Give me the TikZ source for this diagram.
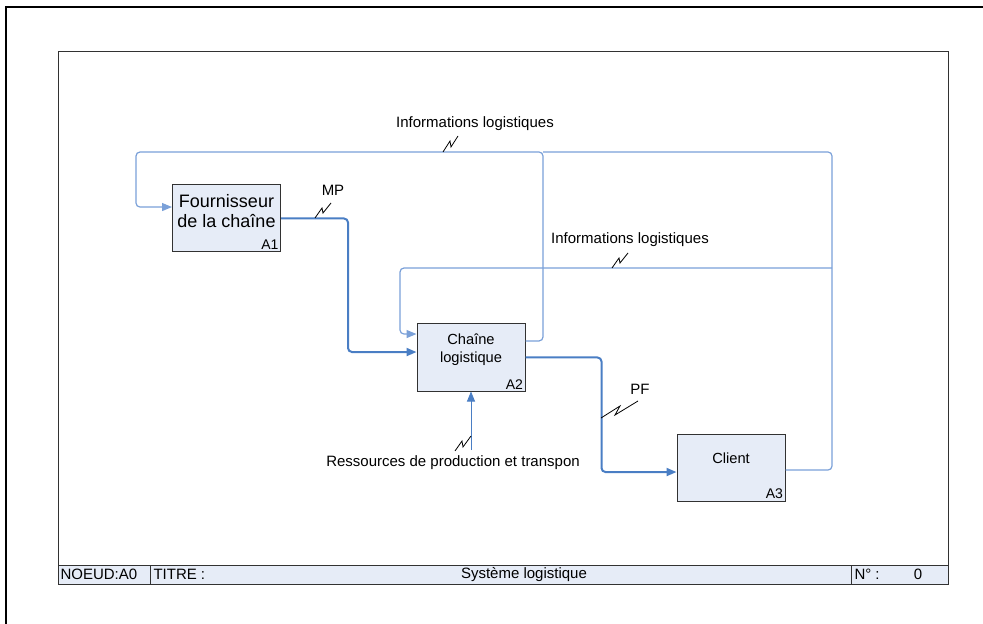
\documentclass[tikz,border=0pt]{standalone}
\usepackage{fontspec}
\setmainfont{Liberation Sans}
\usetikzlibrary{arrows.meta}

\definecolor{boxfill}{RGB}{230,236,247}
\definecolor{boxline}{RGB}{50,50,50}
\definecolor{flowblue}{RGB}{74,126,196}
\definecolor{infoblue}{RGB}{122,160,216}

\tikzset{every picture/.style={line width=0.75pt}}
\tikzset{
  actbox/.style={draw=boxline, fill=boxfill, minimum width=81pt, minimum height=50.25pt, inner sep=0pt, align=center},
  actnum/.style={anchor=south east, inner sep=1.5pt, font=\fontsize{10.5}{12}\selectfont},
  flowline/.style={draw=flowblue, line width=1.5pt, rounded corners=3pt, -{Triangle[length=7.5pt,width=6pt]}},
  infoline/.style={draw=infoblue, line width=0.9pt, rounded corners=3pt},
  infoarrow/.style={infoline, -{Triangle[length=7.5pt,width=6pt]}},
  resline/.style={draw=flowblue, line width=0.6pt, -{Triangle[length=7.5pt,width=6pt]}},
  squig/.style={line width=0.6pt},
  lbl/.style={inner sep=0pt, font=\fontsize{11.25}{13}\selectfont},
  foot/.style={inner sep=0pt, font=\fontsize{11.25}{13}\selectfont}
}

\begin{document}
\begin{tikzpicture}[x=0.75pt,y=0.75pt,yscale=-1,xscale=1]
\useasboundingbox (0,0) rectangle (983,624);

% outer frame
\draw [line width=1.5pt] (6,624) -- (6,7) -- (983,7) ;
% inner frame
\draw [draw=boxline] (58,52) rectangle (948,584) ;
% footer
\draw [draw=boxline, fill=boxfill] (58,565) rectangle (948,584) ;
\draw [draw=boxline] (150,565) -- (150,584) ;
\draw [draw=boxline] (851,565) -- (851,584) ;
\node [foot, anchor=west] (noeud) at (60,574.5) {NOEUD:A0};
\node [foot, anchor=west] (titre) at (153,574.5) {TITRE :};
\node [foot] (titretxt) at (524,574.5) {Système logistique};
\node [foot, anchor=west] (numero) at (854,574.5) {N° :};
\node [foot] (numval) at (918,574.5) {0};

% activities
\node [actbox, font=\fontsize{13.5}{15}\selectfont] (A1) at (226.5,218.5) {Fournisseur\\de la chaîne\\[-4pt]};
\node [actnum] (A1n) at (A1.south east) {A1};
\node [actbox, font=\fontsize{11}{13.5}\selectfont] (A2) at (471,357.5) {Chaîne\\logistique\\[0pt]};
\node [actnum] (A2n) at (A2.south east) {A2};
\node [actbox, font=\fontsize{11}{13.5}\selectfont] (A3) at (731,467.5) {Client\\[0.75pt]};
\node [actnum] (A3n) at (A3.south east) {A3};

% junctions
\coordinate (topM) at (543,152);
\coordinate (topR) at (832,152);
\coordinate (midR) at (832,268);
\coordinate (res) at (471,450);

% information loops
\draw [infoarrow] ([yshift=-12.4pt]A2.east) -| (topM) -- (136,152) |- ([yshift=-8.6pt]A1.west) ;
\draw [infoline] ([yshift=1.9pt]A3.east) -| (topR) -- (topM) ;
\draw [infoarrow] (midR) -- (400,268) |- ([yshift=-17.6pt]A2.west) ;

% MP and PF
\draw [flowline] (A1.east) -- ++(67,0) |- ([yshift=-4.1pt]A2.west) ;
\draw [flowline] (A2.east) -- ++(76,0) |- ([yshift=3.4pt]A3.west) ;

% resources
\draw [resline] (res) -- (A2.south) ;

% labels
\node [lbl] (info1) at (475,124) {Informations logistiques};
\draw [squig] (443,152) -- (450,141) -- (451,147) -- (458,136) ;
\node [lbl] (mp) at (333,190) {MP};
\draw [squig] (315,218) -- (322,208) -- (323,213) -- (331,203) ;
\node [lbl] (info2) at (630,240) {Informations logistiques};
\draw [squig] (612,268) -- (619,258) -- (620,263) -- (628,253) ;
\node [lbl] (pf) at (640,389) {PF};
\draw [squig] (601,418) -- (620,406) -- (615,415) -- (638,401) ;
\node [lbl] (resl) at (453,463) {Ressources de production et transpon};
\draw [squig] (455,451) -- (462,441) -- (463,447) -- (471,436) ;

\end{tikzpicture}
\end{document}
